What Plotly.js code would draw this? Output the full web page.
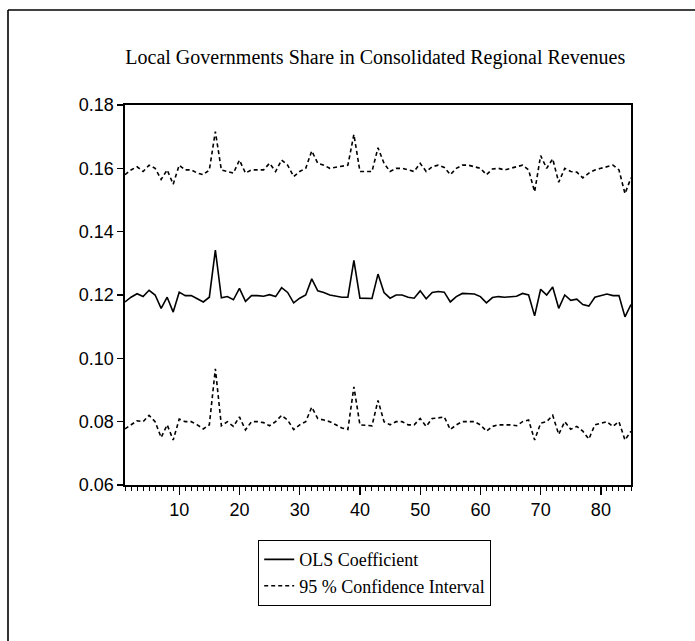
<!DOCTYPE html>
<html>
<head>
<meta charset="utf-8">
<script src="https://cdn.plot.ly/plotly-3.0.1.min.js"></script>
<style>html,body{margin:0;padding:0;background:#fff;}#chart{width:695px;height:641px;}</style>
</head>
<body>
<div id="chart"></div>
<script>
const obs = Array.from({length: 85}, (_, i) => i + 1);

const olsCoefficient = [
  0.1178, 0.1193, 0.1204, 0.1195, 0.1215, 0.1200, 0.1158, 0.1193, 0.1146, 0.1209,
  0.1198, 0.1198, 0.1188, 0.1178, 0.1193, 0.1342, 0.1191, 0.1195, 0.1185, 0.1221,
  0.1180, 0.1198, 0.1198, 0.1196, 0.1201, 0.1195, 0.1223, 0.1208, 0.1175, 0.1190,
  0.1200, 0.1251, 0.1213, 0.1208, 0.1200, 0.1197, 0.1193, 0.1193, 0.1309, 0.1190,
  0.1189, 0.1189, 0.1266, 0.1208, 0.1190, 0.1200, 0.1200, 0.1193, 0.1190, 0.1213,
  0.1188, 0.1208, 0.1211, 0.1209, 0.1178, 0.1195, 0.1205, 0.1205, 0.1203, 0.1195,
  0.1175, 0.1192, 0.1195, 0.1193, 0.1195, 0.1196, 0.1205, 0.1200, 0.1134, 0.1218,
  0.1200, 0.1225, 0.1158, 0.1200, 0.1183, 0.1187, 0.1170, 0.1165, 0.1193, 0.1198,
  0.1203, 0.1198, 0.1198, 0.1131, 0.1170
];

const upperCI = [
  0.1580, 0.1595, 0.1605, 0.1590, 0.1610, 0.1600, 0.1565, 0.1595, 0.1550, 0.1610,
  0.1595, 0.1595, 0.1585, 0.1580, 0.1595, 0.1716, 0.1595, 0.1590, 0.1585, 0.1626,
  0.1585, 0.1595, 0.1595, 0.1595, 0.1616, 0.1590, 0.1626, 0.1610, 0.1574, 0.1590,
  0.1600, 0.1655, 0.1616, 0.1610, 0.1600, 0.1603, 0.1605, 0.1610, 0.1707, 0.1590,
  0.1590, 0.1590, 0.1665, 0.1616, 0.1590, 0.1600, 0.1600, 0.1595, 0.1590, 0.1616,
  0.1590, 0.1605, 0.1610, 0.1603, 0.1580, 0.1600, 0.1610, 0.1610, 0.1605, 0.1600,
  0.1580, 0.1598, 0.1600, 0.1595, 0.1600, 0.1605, 0.1610, 0.1595, 0.1526, 0.1640,
  0.1600, 0.1630, 0.1556, 0.1600, 0.1590, 0.1588, 0.1570, 0.1585, 0.1595, 0.1600,
  0.1605, 0.1610, 0.1595, 0.1520, 0.1570
];

const lowerCI = [
  0.0777, 0.0790, 0.0803, 0.0800, 0.0820, 0.0800, 0.0750, 0.0790, 0.0742, 0.0808,
  0.0800, 0.0800, 0.0790, 0.0777, 0.0790, 0.0967, 0.0787, 0.0800, 0.0785, 0.0815,
  0.0774, 0.0800, 0.0800, 0.0797, 0.0787, 0.0800, 0.0820, 0.0805, 0.0775, 0.0790,
  0.0800, 0.0846, 0.0810, 0.0805, 0.0800, 0.0790, 0.0780, 0.0775, 0.0910, 0.0790,
  0.0788, 0.0787, 0.0867, 0.0800, 0.0790, 0.0800, 0.0800, 0.0790, 0.0790, 0.0810,
  0.0785, 0.0810, 0.0812, 0.0815, 0.0775, 0.0790, 0.0800, 0.0800, 0.0800, 0.0790,
  0.0770, 0.0785, 0.0790, 0.0790, 0.0790, 0.0787, 0.0800, 0.0805, 0.0742, 0.0795,
  0.0800, 0.0820, 0.0760, 0.0800, 0.0776, 0.0785, 0.0770, 0.0745, 0.0790, 0.0795,
  0.0800, 0.0785, 0.0800, 0.0742, 0.0770
];

const xTickVals = [10, 20, 30, 40, 50, 60, 70, 80];
const yTickVals = [0.06, 0.08, 0.10, 0.12, 0.14, 0.16, 0.18];

const titleText = 'Local Governments Share in Consolidated Regional Revenues';
const seriesNames = ['OLS Coefficient', '95 % Confidence Interval'];

const serif = '"Liberation Serif", "Times New Roman", serif';
const sans = '"Liberation Sans", Arial, sans-serif';

const traces = [
  {x: obs, y: olsCoefficient, type: 'scatter', mode: 'lines', name: seriesNames[0],
   line: {color: '#000', width: 1.6}},
  {x: obs, y: upperCI, type: 'scatter', mode: 'lines', name: seriesNames[1],
   line: {color: '#000', width: 1.6, dash: '4px,3px'}},
  {x: obs, y: lowerCI, type: 'scatter', mode: 'lines', name: seriesNames[1], showlegend: false,
   line: {color: '#000', width: 1.6, dash: '4px,3px'}}
];

const layout = {
  width: 695, height: 641,
  margin: {l: 125, r: 64, t: 105, b: 156},
  paper_bgcolor: '#fff', plot_bgcolor: '#fff',
  showlegend: true,
  title: {text: titleText, font: {family: serif, size: 20, color: '#000'},
          x: 0.54, xanchor: 'center', y: 1 - 57/641, yanchor: 'middle'},
  xaxis: {
    range: [1, 85], tickvals: xTickVals, ticks: 'outside', ticklen: 8, tickwidth: 1.3,
    tickcolor: '#000', showgrid: false, zeroline: false, showline: true, mirror: true,
    linecolor: '#000', linewidth: 1.6,
    minor: {dtick: 1, tick0: 0, ticks: 'outside', ticklen: 4, tickcolor: '#000', tickwidth: 1, showgrid: false},
    tickfont: {family: sans, size: 18, color: '#000'}
  },
  yaxis: {
    range: [0.06, 0.18], tickvals: yTickVals, tickformat: '.2f', ticks: 'outside', ticklen: 6,
    tickwidth: 1.3, tickcolor: '#000', showgrid: false, zeroline: false, showline: true, mirror: true,
    linecolor: '#000', linewidth: 1.6,
    tickfont: {family: sans, size: 18, color: '#000'}
  },
  legend: {
    x: (258 - 125) / 506, xanchor: 'left', y: -(540 - 485) / 380, yanchor: 'top',
    bordercolor: '#000', borderwidth: 1.2, bgcolor: '#fff',
    font: {family: serif, size: 18, color: '#000'},
    tracegroupgap: 0
  },
  shapes: [
    {type: 'line', xref: 'paper', yref: 'paper',
     x0: (8 - 125) / 506, x1: (760 - 125) / 506,
     y0: (485 - 10) / 380, y1: (485 - 10) / 380,
     line: {color: '#000', width: 1.6}},
    {type: 'line', xref: 'paper', yref: 'paper',
     x0: (8 - 125) / 506, x1: (8 - 125) / 506,
     y0: -(700 - 485) / 380, y1: (485 - 10) / 380,
     line: {color: '#000', width: 1.6}}
  ]
};

Plotly.newPlot('chart', traces, layout, {displayModeBar: false, staticPlot: true});
</script>
</body>
</html>
